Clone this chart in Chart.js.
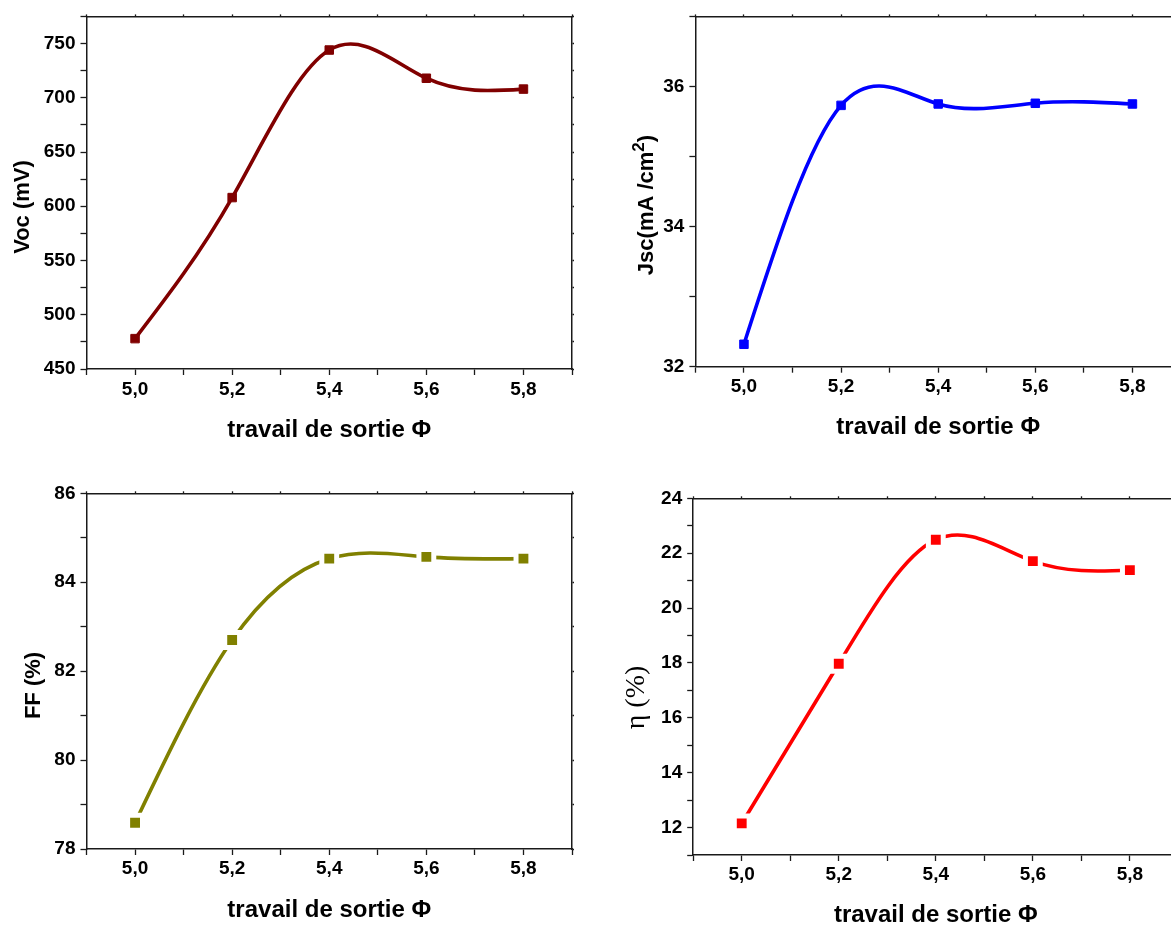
<!DOCTYPE html>
<html><head><meta charset="utf-8">
<script src="https://cdn.jsdelivr.net/npm/chart.js@4.4.1/dist/chart.umd.min.js"></script>
<style>
html,body{margin:0;padding:0;background:#fff;overflow:hidden;width:1171px;height:926px;position:relative;}
canvas{position:absolute;display:block;}
</style></head><body>
<canvas id="c1" width="600" height="460" style="left:0px;top:0px"></canvas>
<canvas id="c2" width="600" height="460" style="left:600px;top:0px"></canvas>
<canvas id="c3" width="600" height="480" style="left:0px;top:460px"></canvas>
<canvas id="c4" width="600" height="480" style="left:600px;top:460px"></canvas>
<script>
// ---- data ----
const workFunction = [5.0, 5.2, 5.4, 5.6, 5.8];
const vocValues = [478, 608, 744, 718, 708];
const jscValues = [32.32, 35.73, 35.75, 35.76, 35.75];
const ffValues = [78.59, 82.70, 84.53, 84.57, 84.53];
const etaValues = [12.15, 17.97, 22.49, 21.71, 21.38];
const xTickValues = [5.0, 5.2, 5.4, 5.6, 5.8];
const xTickLabels = ['5,0', '5,2', '5,4', '5,6', '5,8'];
const vocTicks = [450, 500, 550, 600, 650, 700, 750];
const jscTicks = [32, 34, 36];
const ffTicks = [78, 80, 82, 84, 86];
const etaTicks = [12, 14, 16, 18, 20, 22, 24];
const xTitle = 'travail de sortie Φ';

const SANS = "'Liberation Sans', Arial, sans-serif";
const SERIF = "'Liberation Serif', 'Times New Roman', serif";
const AXIS = '#1a1a1a';

// Rotated y-axis titles (allows a superscript)
const yTitlePlugin = {
  id: 'yTitle',
  afterDraw(chart, args, o) {
    if (!o || !o.parts) return;
    const ctx = chart.ctx;
    ctx.save();
    ctx.translate(o.x, o.y);
    ctx.rotate(-Math.PI / 2);
    ctx.fillStyle = '#000';
    ctx.textBaseline = 'middle';
    ctx.textAlign = 'left';
    const widths = o.parts.map(p => { ctx.font = p.font; return ctx.measureText(p.text).width; });
    const total = widths.reduce((a, b) => a + b, 0);
    let cx = -total / 2;
    o.parts.forEach((p, i) => { ctx.font = p.font; ctx.fillText(p.text, cx, p.dy || 0); cx += widths[i]; });
    ctx.restore();
  }
};

// Natural cubic spline tangents for Chart.js' own bezier line element
const splinePlugin = {
  id: 'naturalSpline',
  beforeDatasetDraw(chart, args) {
    const meta = args.meta;
    const line = meta.dataset;
    if (!line) return;
    if (line.updateControlPoints) line.updateControlPoints(chart.chartArea, meta.iScale ? meta.iScale.axis : 'x');
    const pts = line.points || meta.data;
    const n = pts.length;
    if (n < 3) return;
    const xs = pts.map(p => p.x), ys = pts.map(p => p.y);
    const h = [];
    for (let i = 0; i < n - 1; i++) h.push(xs[i + 1] - xs[i]);
    const M = new Array(n).fill(0);
    const m = n - 2;
    const a = [], b = [], c = [], d = [];
    for (let i = 1; i <= m; i++) {
      a.push(h[i - 1]);
      b.push(2 * (h[i - 1] + h[i]));
      c.push(h[i]);
      d.push(6 * ((ys[i + 1] - ys[i]) / h[i] - (ys[i] - ys[i - 1]) / h[i - 1]));
    }
    for (let i = 1; i < m; i++) {
      const w = a[i] / b[i - 1];
      b[i] -= w * c[i - 1];
      d[i] -= w * d[i - 1];
    }
    const sol = new Array(m);
    sol[m - 1] = d[m - 1] / b[m - 1];
    for (let i = m - 2; i >= 0; i--) sol[i] = (d[i] - c[i] * sol[i + 1]) / b[i];
    for (let i = 1; i <= m; i++) M[i] = sol[i - 1];
    for (let i = 0; i < n - 1; i++) {
      const s = (ys[i + 1] - ys[i]) / h[i];
      const dL = s - h[i] * (2 * M[i] + M[i + 1]) / 6;
      const dR = s + h[i] * (M[i] + 2 * M[i + 1]) / 6;
      pts[i].cp2x = xs[i] + h[i] / 3;
      pts[i].cp2y = ys[i] + dL * h[i] / 3;
      pts[i + 1].cp1x = xs[i + 1] - h[i] / 3;
      pts[i + 1].cp1y = ys[i + 1] - dR * h[i] / 3;
    }
    line._path = undefined;
  }
};

function labelFrom(values, labels) {
  return function (v) {
    for (let i = 0; i < values.length; i++) if (Math.abs(values[i] - v) < 1e-6) return labels[i];
    return '';
  };
}

function makePanel(id, o) {
  const gridOpts = { drawOnChartArea: false, drawTicks: true, tickLength: 6, color: AXIS, tickWidth: 1.3 };
  const mirrorGrid = { drawOnChartArea: false, drawTicks: true, tickLength: 2, color: AXIS, tickWidth: 1.3 };
  const borderOpts = { display: true, color: AXIS, width: 1.5 };
  const tickFont = { family: SANS, size: 19, weight: 'bold' };
  const xTickLabelFn = labelFrom(xTickValues, xTickLabels);
  const yTickLabelFn = labelFrom(o.yTicks, o.yTicks.map(String));
  new Chart(document.getElementById(id), {
    type: 'line',
    data: {
      datasets: [{
        data: workFunction.map((x, i) => ({ x: x, y: o.values[i] })),
        xAxisID: 'x', yAxisID: 'y',
        borderColor: o.color, backgroundColor: o.color,
        borderWidth: 3.6, tension: 0.4, fill: false,
        pointStyle: 'rect', pointRadius: o.pointRadius,
        pointBackgroundColor: o.color, pointBorderColor: o.pointBorderColor,
        pointBorderWidth: o.pointBorderWidth, pointHoverRadius: o.pointRadius
      }]
    },
    options: {
      responsive: false, animation: false, devicePixelRatio: 1,
      layout: { padding: 0 },
      plugins: { legend: { display: false }, tooltip: { enabled: false }, yTitle: o.yTitle },
      scales: {
        x: {
          type: 'linear', position: 'bottom', min: 4.9, max: 5.9,
          ticks: { stepSize: 0.1, autoSkip: false, maxRotation: 0, minRotation: 0, padding: o.xTickPad, color: '#000', font: tickFont, callback: xTickLabelFn },
          grid: gridOpts, border: borderOpts,
          title: { display: true, text: xTitle, color: '#000', font: { family: SANS, size: 24, weight: 'bold', lineHeight: 1 }, padding: { top: 0, bottom: o.xTitlePad } },
          afterFit: s => { s.height = o.h - o.area.b; }
        },
        x2: {
          type: 'linear', position: 'top', min: 4.9, max: 5.9,
          ticks: { display: false, stepSize: 0.1, autoSkip: false },
          grid: mirrorGrid, border: borderOpts,
          afterFit: s => { s.height = o.area.t; }
        },
        y: {
          type: 'linear', position: 'left', min: o.yMin, max: o.yMax,
          ticks: { stepSize: o.yStep, autoSkip: false, padding: 5, color: '#000', font: tickFont, callback: yTickLabelFn },
          grid: gridOpts, border: borderOpts,
          afterFit: s => { s.width = o.area.l; }
        },
        y2: {
          type: 'linear', position: 'right', min: o.yMin, max: o.yMax,
          ticks: { display: false, stepSize: o.yStep, autoSkip: false },
          grid: mirrorGrid, border: borderOpts,
          afterFit: s => { s.width = o.w - o.area.r; }
        }
      }
    },
    plugins: [splinePlugin, yTitlePlugin]
  });
}

const boldTitle = "bold 22px " + SANS;

makePanel('c1', {
  w: 600, h: 460, area: { l: 86.5, r: 572, t: 12.7, b: 369 },
  values: vocValues, color: '#800000', yMin: 450, yMax: 775, yStep: 25, yTicks: vocTicks,
  pointRadius: 6, pointBorderColor: '#800000', pointBorderWidth: 1,
  xTickPad: 3.6, xTitlePad: 18,
  yTitle: { x: 23, y: 207, parts: [{ text: 'Voc (mV)', font: boldTitle }] }
});

makePanel('c2', {
  w: 600, h: 460, area: { l: 95.4, r: 581, t: 10, b: 366.7 },
  values: jscValues, color: '#0000FF', yMin: 32, yMax: 37, yStep: 1, yTicks: jscTicks,
  pointRadius: 6, pointBorderColor: '#0000FF', pointBorderWidth: 1,
  xTickPad: 2.6, xTitlePad: 21,
  yTitle: { x: 47, y: 205, parts: [
    { text: 'Jsc(mA /cm', font: boldTitle },
    { text: '2', font: "bold 17px " + SANS, dy: -8 },
    { text: ')', font: boldTitle }
  ] }
});

makePanel('c3', {
  w: 600, h: 480, area: { l: 86.5, r: 572, t: 33.3, b: 389 },
  values: ffValues, color: '#808000', yMin: 78, yMax: 86, yStep: 1, yTicks: ffTicks,
  pointRadius: 10.5, pointBorderColor: '#FFFFFF', pointBorderWidth: 5,
  xTickPad: 2.6, xTitlePad: 18,
  yTitle: { x: 33.5, y: 225.5, parts: [{ text: 'FF (%)', font: boldTitle }] }
});

makePanel('c4', {
  w: 600, h: 480, area: { l: 93.2, r: 578.4, t: 38.3, b: 395 },
  values: etaValues, color: '#FF0000', yMin: 11, yMax: 24, yStep: 1, yTicks: etaTicks,
  pointRadius: 10.5, pointBorderColor: '#FFFFFF', pointBorderWidth: 5,
  xTickPad: 2.6, xTitlePad: 13,
  yTitle: { x: 37, y: 237.5, parts: [{ text: 'η (%)', font: "28px " + SERIF }] }
});
</script>
</body></html>
